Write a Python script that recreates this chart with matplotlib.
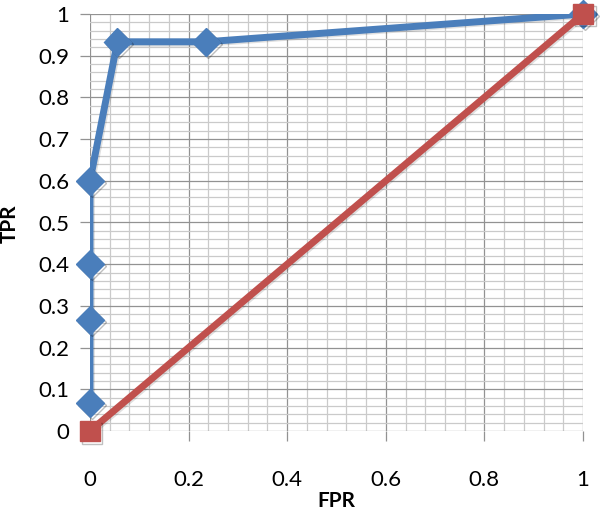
import matplotlib
matplotlib.use("Agg")
import matplotlib.pyplot as plt
import matplotlib.patheffects as pe
import numpy as np

# Data
roc_fpr = [0, 0, 0, 0, 1/18, 4/17, 1]
roc_tpr = [1/15, 4/15, 6/15, 9/15, 14/15, 14/15, 1]
diag_fpr = [0, 1]
diag_tpr = [0, 1]
x_ticks = [0, 0.2, 0.4, 0.6, 0.8, 1]
x_ticklabels = ["0", "0.2", "0.4", "0.6", "0.8", "1"]
y_ticks = [0, 0.1, 0.2, 0.3, 0.4, 0.5, 0.6, 0.7, 0.8, 0.9, 1]
y_ticklabels = ["0", "0.1", "0.2", "0.3", "0.4", "0.5", "0.6", "0.7", "0.8", "0.9", "1"]

blue = "#4a7ebb"
red = "#c0504d"

plt.rcParams['font.family'] = ['Lato', 'DejaVu Sans']

fig = plt.figure(figsize=(6.0, 5.11), dpi=100)
ax = fig.add_axes([90/600, 1 - 431/511, (583 - 90)/600, (431 - 14)/511])

ax.set_xlim(0, 1)
ax.set_ylim(0, 1)

# grid
ax.set_xticks(x_ticks)
ax.set_xticklabels(x_ticklabels)
ax.set_yticks(y_ticks)
ax.set_yticklabels(y_ticklabels)
ax.set_xticks(np.arange(0, 1.0001, 0.04), minor=True)
ax.set_yticks(np.arange(0, 1.0001, 0.02), minor=True)
ax.grid(which="minor", color="#cacaca", linewidth=0.9, zorder=0)
ax.grid(which="major", color="#929292", linewidth=0.9, zorder=0)
ax.set_axisbelow(True)

for s in ax.spines.values():
    s.set_visible(False)

ax.tick_params(axis="x", which="major", length=7, color="#929292", width=0.9,
               labelsize=16, pad=21)
ax.tick_params(axis="y", which="major", length=7, color="#929292", width=0.9,
               labelsize=16, pad=8)
ax.tick_params(which="minor", length=0)

line_shadow = [pe.SimpleLineShadow(offset=(1, -1), shadow_color="black", alpha=0.12), pe.Normal()]
mark_shadow = [pe.SimpleLineShadow(offset=(1.5, -1.5), shadow_color="black", alpha=0.25), pe.Normal()]

# ROC curve
ax.plot(roc_fpr, roc_tpr, color=blue, linewidth=5, zorder=3, clip_on=True,
        solid_joinstyle="round", path_effects=line_shadow)
ax.plot(roc_fpr, roc_tpr, linestyle="none", marker="D", markersize=14,
        color=blue, markeredgecolor=blue, zorder=4, clip_on=False, path_effects=mark_shadow)

# diagonal
ax.plot(diag_fpr, diag_tpr, color=red, linewidth=5, zorder=5, clip_on=True,
        path_effects=line_shadow)
ax.plot(diag_fpr, diag_tpr, linestyle="none", marker="s", markersize=15,
        color=red, markeredgecolor=red, zorder=6, clip_on=False, path_effects=mark_shadow)

fig.text(336/600, 1 - 501/511, "FPR", fontsize=15, fontweight="bold",
         ha="center", va="center")
fig.text(10/600, 1 - 224/511, "TPR", fontsize=15, fontweight="bold",
         ha="center", va="center", rotation=90)

fig.savefig("out.png", dpi=100)
